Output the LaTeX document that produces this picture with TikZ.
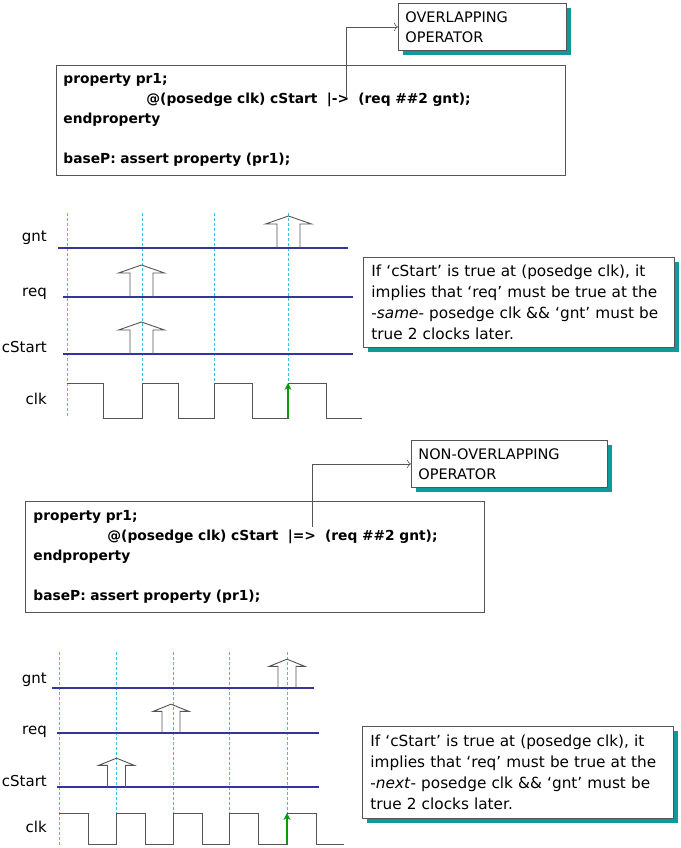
\documentclass[tikz,border=0pt]{standalone}
\usepackage{fontspec}
\setmainfont{DejaVu Sans}
\usetikzlibrary{arrows.meta,shadows}
\definecolor{sigblue}{HTML}{34349C}
\definecolor{guidecyan}{HTML}{3CBFE6}
\definecolor{shadowteal}{HTML}{0E9A98}
\definecolor{edgegreen}{HTML}{0A9A0A}
\definecolor{linegray}{HTML}{555555}
\tikzset{
  opbox/.style={draw=linegray,fill=white,line width=0.8pt,anchor=north west,
    drop shadow={shadow xshift=5pt,shadow yshift=-5pt,fill=shadowteal,opacity=1},
    inner xsep=7pt,inner ysep=0pt,align=left,font=\fontsize{14.5}{20}\selectfont},
  codebox/.style={draw=linegray,line width=0.8pt,anchor=north west,
    inner xsep=7pt,inner ysep=0pt,align=left,font=\fontsize{13.8}{20}\selectfont\bfseries},
  notebox/.style={opbox,inner xsep=8pt,font=\fontsize{15.3}{21}\selectfont},
  siglabel/.style={anchor=east,inner sep=0pt,text height=11pt,text depth=3pt,
    font=\fontsize{15}{18}\selectfont},
  sig/.style={draw=sigblue,line width=2pt},
  clkwave/.style={draw=linegray,line width=1pt},
  guide/.style={draw=guidecyan,line width=0.6pt,dash pattern=on 3pt off 2pt},
  fatarr/.style={draw=linegray,line width=0.9pt},
  edgearr/.style={-{Stealth[length=7pt,width=7pt]},draw=edgegreen,line width=1.8pt},
  callout/.style={-{To[length=4pt]},draw=linegray,line width=0.6pt},
  pics/upmark/.style={code={
    \draw[fatarr] (-11.5,0) -- (-11.5,-24) -- (-23,-24) -- (0,-32) -- (23,-24) -- (11.5,-24) -- (11.5,0);}},
}
\begin{document}
\begin{tikzpicture}[x=1pt,y=-1pt]
  \useasboundingbox (0,0) rectangle (680,848);

  % overlapping
  \node[opbox,text width=154pt,minimum height=47pt] (ovl) at (398,3) {OVERLAPPING\\OPERATOR};
  \node[codebox,text width=495pt,minimum height=110pt] (code1) at (56,65)
    {property pr1;\\
     \hspace*{83pt}@(posedge clk) cStart~ |->~ (req \#\#2 gnt);\\
     endproperty\\
     \mbox{}\\
     baseP: assert property (pr1);};
  \coordinate (src1) at (346,97);
  \draw[callout] (src1) |- (ovl.west);

  \foreach \gx in {67,142,214,288} \draw[guide] (\gx,213) -- (\gx,418);
  \draw[sig] (58,248) -- (348,248);
  \draw[sig] (63,297) -- (353,297);
  \draw[sig] (63,354) -- (353,354);
  \draw[clkwave] (67,383) -- (103,383) -- (103,418) -- (142,418) -- (142,383) -- (178,383)
    -- (178,418) -- (214,418) -- (214,383) -- (252,383) -- (252,418) -- (288,418)
    -- (288,383) -- (326,383) -- (326,418) -- (362,418);
  \pic at (288.5,248) {upmark};
  \pic at (141.5,297) {upmark};
  \pic at (141.5,354) {upmark};
  \coordinate (rise1b) at (288,418);
  \coordinate (rise1t) at (288,383);
  \draw[edgearr] (rise1b) -- (rise1t);
  \node[siglabel] (gnt1) at (47,237) {gnt};
  \node[siglabel] (req1) at (47,292) {req};
  \node[siglabel] (cs1) at (47,348) {cStart};
  \node[siglabel] (clk1) at (47,400) {clk};
  \node[notebox,text width=295pt,minimum height=90pt] (note1) at (363,257)
    {If ‘cStart’ is true at (posedge clk), it\\
     implies that ‘req’ must be true at the\\
     -\textit{same}- posedge clk \&\& ‘gnt’ must be\\
     true 2 clocks later.};

  % non-overlapping
  \node[opbox,text width=182pt,minimum height=47pt] (novl) at (411,440) {NON-OVERLAPPING\\OPERATOR};
  \node[codebox,inner xsep=8pt,text width=443pt,minimum height=111pt] (code2) at (25,501)
    {property pr1;\\
     \hspace*{74pt}@(posedge clk) cStart~ |=>~ (req \#\#2 gnt);\\
     endproperty\\
     \mbox{}\\
     baseP: assert property (pr1);};
  \coordinate (src2) at (312,527);
  \draw[callout] (src2) |- (novl.west);

  \foreach \gx in {59,116,173,229,287} \draw[guide] (\gx,652) -- (\gx,845);
  \draw[sig] (52,688) -- (314,688);
  \draw[sig] (57,733) -- (319,733);
  \draw[sig] (57,787) -- (319,787);
  \draw[clkwave] (59,813) -- (88,813) -- (88,844) -- (116,844) -- (116,813) -- (145,813)
    -- (145,844) -- (173,844) -- (173,813) -- (202,813) -- (202,844) -- (229,844)
    -- (229,813) -- (258,813) -- (258,844) -- (287,844) -- (287,813) -- (316,813)
    -- (316,844) -- (344,844);
  \pic[xscale=0.78,yscale=0.9] at (287,688) {upmark};
  \pic[xscale=0.78,yscale=0.9] at (171,733) {upmark};
  \pic[xscale=0.78,yscale=0.9] at (116.5,787) {upmark};
  \coordinate (rise2b) at (287,844);
  \coordinate (rise2t) at (287,813);
  \draw[edgearr] (rise2b) -- (rise2t);
  \node[siglabel] (gnt2) at (47,679) {gnt};
  \node[siglabel] (req2) at (47,730) {req};
  \node[siglabel] (cs2) at (47,782) {cStart};
  \node[siglabel] (clk2) at (47,828) {clk};
  \node[notebox,text width=295pt,minimum height=92pt] (note2) at (362,726)
    {If ‘cStart’ is true at (posedge clk), it\\
     implies that ‘req’ must be true at the\\
     -\textit{next}- posedge clk \&\& ‘gnt’ must be\\
     true 2 clocks later.};
\end{tikzpicture}
\end{document}
